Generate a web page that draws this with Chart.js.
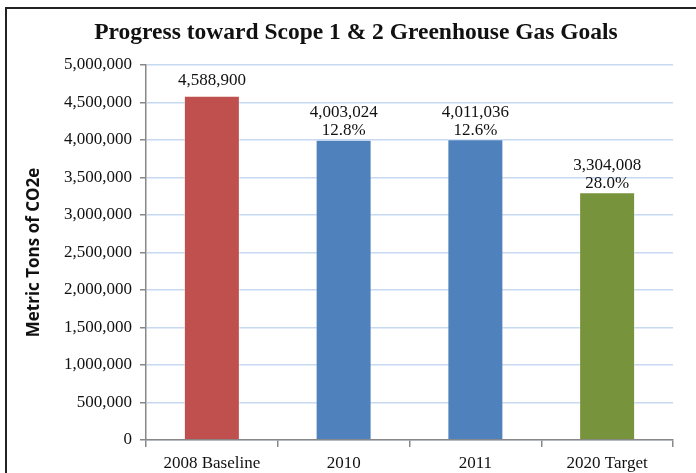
<!DOCTYPE html>
<html>
<head>
<meta charset="utf-8">
<script src="https://cdn.jsdelivr.net/npm/chart.js@4/dist/chart.umd.min.js"></script>
<style>
  html, body { margin: 0; padding: 0; background: #fff; }
  #wrap { position: relative; width: 696px; height: 473px; }
</style>
</head>
<body>
<div id="wrap"><canvas id="grafico" width="696" height="473"></canvas></div>
<script>
const titulo = 'Progress toward Scope 1 & 2 Greenhouse Gas Goals';
const categorias = ['2008 Baseline', '2010', '2011', '2020 Target'];
const emissoes = [4588900, 4003024, 4011036, 3304008];
const reducao = ['', '12.8%', '12.6%', '28.0%'];
const coresBarras = ['#C0504D', '#4F81BD', '#4F81BD', '#77933C'];
const yMax = 5000000;
const yPasso = 500000;

const serif = '"Liberation Serif", "Times New Roman", serif';

// moldura (só topo e esquerda aparecem no recorte) + título
const molduraPlugin = {
  id: 'moldura',
  beforeDraw(chart) {
    const ctx = chart.ctx;
    ctx.save();
    ctx.fillStyle = '#fff';
    ctx.fillRect(0, 0, chart.width, chart.height);
    ctx.strokeStyle = '#222';
    ctx.lineWidth = 2;
    ctx.beginPath();
    ctx.moveTo(6, chart.height);
    ctx.lineTo(6, 8);
    ctx.lineTo(chart.width, 8);
    ctx.stroke();

    ctx.font = 'bold 23.5px ' + serif;
    ctx.fillStyle = '#111';
    ctx.textAlign = 'center';
    ctx.textBaseline = 'middle';
    ctx.fillText(titulo, 356, 33);
    ctx.restore();
  }
};

const rotulosPlugin = {
  id: 'rotulos',
  afterDatasetsDraw(chart) {
    const ctx = chart.ctx;
    const meta = chart.getDatasetMeta(0);
    ctx.save();
    ctx.font = '17px ' + serif;
    ctx.fillStyle = '#111';
    ctx.textAlign = 'center';
    ctx.textBaseline = 'middle';
    meta.data.forEach((bar, i) => {
      const valor = emissoes[i].toLocaleString('en-US');
      if (reducao[i]) {
        ctx.fillText(reducao[i], bar.x, bar.y - 9);
        ctx.fillText(valor, bar.x, bar.y - 27);
      } else {
        ctx.fillText(valor, bar.x, bar.y - 15);
      }
    });
    ctx.restore();
  }
};

new Chart(document.getElementById('grafico').getContext('2d'), {
  type: 'bar',
  data: {
    labels: categorias,
    datasets: [{
      data: emissoes,
      backgroundColor: coresBarras,
      borderColor: 'rgba(255,255,255,0.35)',
      borderWidth: 1,
      barPercentage: 0.425,
      categoryPercentage: 1
    }]
  },
  options: {
    responsive: false,
    animation: false,
    layout: { padding: { left: 16, right: 23, top: 65, bottom: 0 } },
    plugins: {
      legend: { display: false },
      tooltip: { enabled: false },
      title: { display: false }
    },
    scales: {
      y: {
        min: 0,
        max: yMax,
        afterFit(scale) { scale.width = 130; },
        ticks: {
          stepSize: yPasso,
          color: '#111',
          padding: 8,
          font: { family: serif, size: 17 },
          callback: v => v.toLocaleString('en-US')
        },
        grid: { color: '#C6D9F1', lineWidth: 1.5, tickColor: '#888', tickLength: 6 },
        border: { color: '#888', width: 1.5 },
        title: {
          display: true,
          text: 'Metric Tons of CO2e',
          color: '#111',
          font: { family: '"Open Sans", "Liberation Sans", sans-serif', size: 17, weight: 'bold' },
          padding: { top: 8, bottom: 0 }
        }
      },
      x: {
        afterFit(scale) { scale.height = 33; },
        ticks: {
          color: '#111',
          padding: 6,
          font: { family: serif, size: 17 }
        },
        grid: { drawOnChartArea: false, offset: true, tickColor: '#888', tickLength: 7, lineWidth: 1.5 },
        border: { color: '#888', width: 1.5 }
      }
    }
  },
  plugins: [molduraPlugin, rotulosPlugin]
});
</script>
</body>
</html>
